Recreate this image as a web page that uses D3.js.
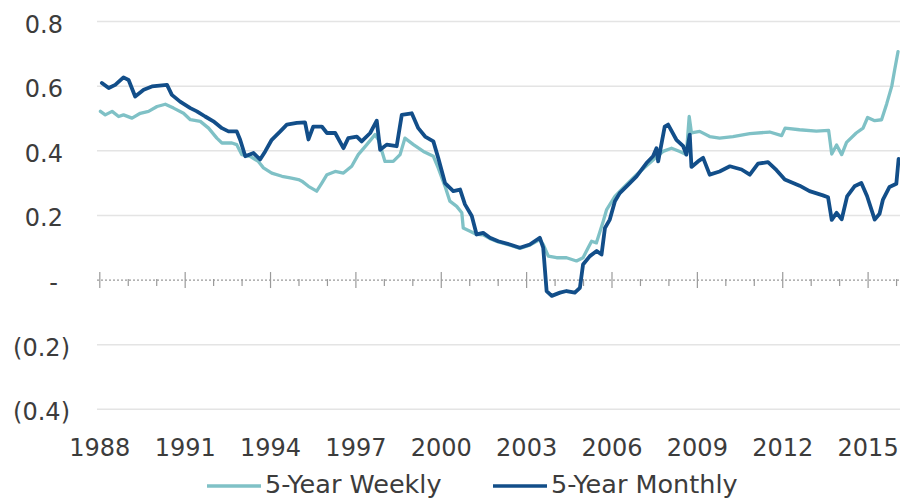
<!DOCTYPE html>
<html>
<head>
<meta charset="utf-8">
<script src="https://cdn.jsdelivr.net/npm/d3@7"></script>
<style>
  html, body { margin: 0; padding: 0; background: #fff; }
  svg { display: block; }
  text { font-family: "DejaVu Sans", sans-serif; fill: #3c3c3c; }
</style>
</head>
<body>
<svg id="chart" width="900" height="500"></svg>
<script>
// Rolling 5-year estimates, decimal year -> value
const weeklyYears = [
  1988.04, 1988.21, 1988.45, 1988.68, 1988.85, 1989.15, 1989.44, 1989.73, 1990.03, 1990.32,
  1990.61, 1990.96, 1991.20, 1991.55, 1991.84, 1992.13, 1992.31, 1992.66, 1992.83, 1993.01,
  1993.30, 1993.59, 1993.77, 1994.06, 1994.42, 1994.71, 1995.00, 1995.12, 1995.35, 1995.64,
  1995.82, 1996.00, 1996.29, 1996.58, 1996.87, 1997.10, 1997.40, 1997.69, 1997.81, 1998.04,
  1998.33, 1998.57, 1998.74, 1999.04, 1999.39, 1999.74, 1999.91, 2000.15, 2000.32, 2000.56,
  2000.74, 2000.79, 2001.03, 2001.26, 2001.49, 2001.73, 2002.02, 2002.43, 2002.78, 2003.13,
  2003.48, 2003.60, 2003.78, 2004.07, 2004.42, 2004.77, 2005.00, 2005.18, 2005.30, 2005.47,
  2005.71, 2005.83, 2006.12, 2006.41, 2006.88, 2007.34, 2007.81, 2008.11, 2008.40, 2008.63,
  2008.73, 2008.81, 2009.10, 2009.45, 2009.80, 2010.27, 2010.86, 2011.56, 2011.98, 2012.10,
  2012.61, 2013.20, 2013.63, 2013.74, 2013.91, 2014.09, 2014.26, 2014.60, 2014.84, 2015.00,
  2015.25, 2015.49, 2015.67, 2015.85, 2015.95, 2016.07
];
const weeklyValues = [
  0.522, 0.511, 0.522, 0.506, 0.511, 0.501, 0.516, 0.522, 0.537, 0.544,
  0.532, 0.516, 0.496, 0.491, 0.470, 0.439, 0.424, 0.424, 0.419, 0.388,
  0.383, 0.367, 0.347, 0.331, 0.321, 0.316, 0.311, 0.306, 0.290, 0.275,
  0.300, 0.326, 0.336, 0.331, 0.352, 0.388, 0.419, 0.450, 0.434, 0.367,
  0.367, 0.388, 0.439, 0.419, 0.398, 0.383, 0.347, 0.290, 0.244, 0.228,
  0.208, 0.161, 0.151, 0.141, 0.140, 0.128, 0.118, 0.108, 0.098, 0.108,
  0.125, 0.110, 0.074, 0.069, 0.069, 0.059, 0.069, 0.100, 0.120, 0.115,
  0.182, 0.218, 0.259, 0.285, 0.326, 0.362, 0.398, 0.408, 0.398, 0.388,
  0.506, 0.455, 0.460, 0.444, 0.439, 0.444, 0.453, 0.458, 0.447, 0.470,
  0.465, 0.461, 0.463, 0.390, 0.418, 0.388, 0.426, 0.455, 0.470, 0.503,
  0.493, 0.496, 0.545, 0.600, 0.650, 0.707
];

const monthlyYears = [
  1988.09, 1988.33, 1988.56, 1988.85, 1989.03, 1989.26, 1989.56, 1989.85, 1990.38, 1990.55,
  1990.84, 1991.20, 1991.43, 1991.72, 1992.01, 1992.31, 1992.54, 1992.83, 1992.95, 1993.13,
  1993.42, 1993.65, 1993.83, 1994.06, 1994.36, 1994.59, 1994.94, 1995.23, 1995.35, 1995.52,
  1995.82, 1996.00, 1996.29, 1996.58, 1996.75, 1997.05, 1997.22, 1997.52, 1997.75, 1997.87,
  1998.10, 1998.45, 1998.63, 1998.98, 1999.21, 1999.45, 1999.74, 1999.91, 2000.15, 2000.44,
  2000.68, 2000.85, 2001.09, 2001.26, 2001.49, 2001.73, 2002.02, 2002.43, 2002.78, 2003.13,
  2003.48, 2003.60, 2003.72, 2003.90, 2004.19, 2004.42, 2004.71, 2004.89, 2005.00, 2005.24,
  2005.48, 2005.65, 2005.77, 2005.94, 2006.12, 2006.29, 2006.53, 2006.88, 2007.23, 2007.46,
  2007.58, 2007.64, 2007.87, 2007.99, 2008.28, 2008.52, 2008.63, 2008.75, 2008.81, 2009.04,
  2009.22, 2009.45, 2009.80, 2010.16, 2010.57, 2010.86, 2011.15, 2011.50, 2011.80, 2012.09,
  2012.61, 2012.96, 2013.43, 2013.61, 2013.74, 2013.91, 2014.09, 2014.28, 2014.54, 2014.78,
  2014.98, 2015.25, 2015.42, 2015.54, 2015.77, 2016.01, 2016.09
];
const monthlyValues = [
  0.610, 0.594, 0.604, 0.627, 0.619, 0.568, 0.589, 0.599, 0.604, 0.573,
  0.552, 0.532, 0.522, 0.506, 0.491, 0.470, 0.460, 0.460, 0.434, 0.383,
  0.393, 0.373, 0.398, 0.434, 0.460, 0.481, 0.486, 0.488, 0.435, 0.475,
  0.475, 0.455, 0.455, 0.408, 0.439, 0.444, 0.429, 0.455, 0.493, 0.403,
  0.419, 0.414, 0.511, 0.516, 0.470, 0.444, 0.429, 0.378, 0.300, 0.275,
  0.280, 0.234, 0.198, 0.141, 0.146, 0.131, 0.120, 0.110, 0.100, 0.110,
  0.131, 0.100, -0.034, -0.049, -0.039, -0.034, -0.039, -0.024, 0.048, 0.074,
  0.090, 0.079, 0.161, 0.187, 0.244, 0.269, 0.290, 0.321, 0.362, 0.383,
  0.408, 0.367, 0.475, 0.481, 0.434, 0.414, 0.388, 0.450, 0.350, 0.367,
  0.378, 0.326, 0.336, 0.352, 0.342, 0.326, 0.360, 0.365, 0.340, 0.311,
  0.292, 0.275, 0.262, 0.256, 0.186, 0.208, 0.188, 0.259, 0.290, 0.300,
  0.260, 0.187, 0.205, 0.249, 0.288, 0.298, 0.375
];

const seriesNames = ["5-Year Weekly", "5-Year Monthly"];
const seriesColors = ["#7fc1c6", "#124e89"];

const yearLabels = [1988, 1991, 1994, 1997, 2000, 2003, 2006, 2009, 2012, 2015];
const yearMarks = d3.range(1988, 2017);
const yTickValues = [0.8, 0.6, 0.4, 0.2, 0, -0.2, -0.4];
const yTickLabels = ["0.8", "0.6", "0.4", "0.2", "-", "(0.2)", "(0.4)"];

const svg = d3.select("#chart");
const W = 900;

const x = d3.scaleLinear().domain([1988, 2015]).range([99.3, 867.6]);
const y = d3.scaleLinear().domain([-0.4, 0.8]).range([409.3, 21.5]);

// horizontal gridlines (all except the zero line)
svg.append("g")
  .selectAll("line")
  .data(yTickValues.filter(v => v !== 0))
  .join("line")
  .attr("x1", 97).attr("x2", W)
  .attr("y1", d => y(d)).attr("y2", d => y(d))
  .attr("stroke", "#e4e4e4")
  .attr("stroke-width", 1.5);

// y-axis labels in accounting style
const yAxis = svg.append("g")
  .call(d3.axisLeft(y)
    .tickValues(yTickValues)
    .tickSize(0)
    .tickFormat((d, i) => yTickLabels[i]));
yAxis.select(".domain").remove();
yAxis.selectAll("text")
  .attr("font-family", "DejaVu Sans, sans-serif")
  .attr("font-size", 24)
  .attr("fill", "#3c3c3c")
  .attr("dy", "0.44em")
  .attr("x", (d, i) => {
    const s = yTickLabels[i];
    if (s.startsWith("(")) return 70;
    if (s === "-") return 58;
    return 63;
  });

// zero line with yearly tick marks
const zeroAxis = svg.append("g")
  .attr("transform", `translate(0,${y(0)})`)
  .call(d3.axisBottom(x)
    .tickValues(yearMarks)
    .tickSize(6)
    .tickSizeOuter(0)
    .tickFormat(""));
zeroAxis.select(".domain")
  .attr("d", `M97,0H${W}`)
  .attr("stroke", "#9a9a9a")
  .attr("stroke-width", 1.2)
  .attr("stroke-dasharray", "2,2");
zeroAxis.selectAll(".tick line")
  .attr("stroke", "#9a9a9a")
  .attr("stroke-width", 1.2)
  .attr("y1", d => ((d - 1988) % 3 === 0 ? -8 : -1))
  .attr("y2", d => ((d - 1988) % 3 === 0 ? 8 : 6));

// year labels along the bottom
const xAxis = svg.append("g")
  .call(d3.axisBottom(x)
    .tickValues(yearLabels)
    .tickSize(0)
    .tickFormat(d3.format("d")));
xAxis.select(".domain").remove();
xAxis.selectAll("text")
  .attr("font-family", "DejaVu Sans, sans-serif")
  .attr("font-size", 24)
  .attr("fill", "#3c3c3c")
  .attr("y", 456)
  .attr("dy", 0);

// series lines
svg.append("clipPath").attr("id", "plot-clip")
  .append("rect").attr("x", 90).attr("y", 0).attr("width", W - 90).attr("height", 440);

const line = d3.line().x(d => x(d[0])).y(d => y(d[1]));
const series = [
  d3.zip(weeklyYears, weeklyValues),
  d3.zip(monthlyYears, monthlyValues)
];

svg.append("g")
  .attr("clip-path", "url(#plot-clip)")
  .selectAll("path")
  .data(series)
  .join("path")
  .attr("d", line)
  .attr("fill", "none")
  .attr("stroke", (d, i) => seriesColors[i])
  .attr("stroke-width", (d, i) => (i === 0 ? 3.3 : 3.8))
  .attr("stroke-linejoin", "round")
  .attr("stroke-linecap", "round");

// legend
const legendX = [207, 493];
const legend = svg.append("g");
seriesNames.forEach((name, i) => {
  legend.append("line")
    .attr("x1", legendX[i]).attr("x2", legendX[i] + 54)
    .attr("y1", 486).attr("y2", 486)
    .attr("stroke", seriesColors[i])
    .attr("stroke-width", 3.6);
  legend.append("text")
    .attr("x", legendX[i] + 58)
    .attr("y", 493)
    .attr("font-size", 25.5)
    .attr("fill", "#3c3c3c")
    .text(name);
});
</script>
</body>
</html>
